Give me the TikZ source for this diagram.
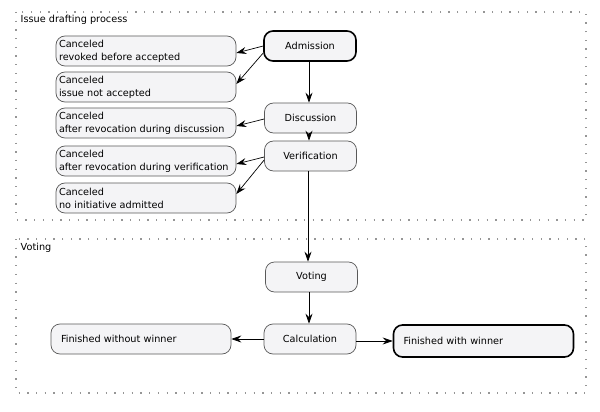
\documentclass[tikz,border=0pt]{standalone}
\usepackage{fontspec}
\setmainfont{DejaVu Sans}
\usetikzlibrary{arrows.meta}
\usetikzlibrary{positioning}

\definecolor{stagefill}{RGB}{244,244,246}
\definecolor{phaseline}{RGB}{150,150,150}

\begin{document}
\begin{tikzpicture}[
            x = 1pt, y = -1pt, % pixel grid, y going down
            > = {Stealth[length=10pt, width=7pt, inset=3.5pt]}, % arrow head style
            font = \fontsize{9.7}{13}\selectfont,
            line width = 0.7pt
        ]

        \tikzstyle{stage}=[
            draw = black!65,
            line width = 0.7pt,
            fill = stagefill,
            rounded corners = 9pt,
            minimum width = 92pt,
            minimum height = 30pt,
            inner sep = 2pt
        ]
        \tikzstyle{stage end}=[stage, draw = black, line width = 1.6pt]
        \tikzstyle{canceled}=[stage, minimum width = 180pt, text width = 174pt, inner sep = 3pt, align = left]
        \tikzstyle{finished}=[stage, minimum width = 180pt, text width = 160pt, inner sep = 10pt, align = left]
        \tikzstyle{finished end}=[finished, draw = black, line width = 1.6pt, minimum height = 32pt]
        \tikzstyle{phase}=[draw = phaseline, line width = 1.3pt, dash pattern = on 1.3pt off 7.4pt]

        \useasboundingbox (0,0) rectangle (600,412);

	% ISSUE DRAFTING PROCESS
        \draw[phase] (16,12) rectangle (586,220);
        \node[anchor = west] (draftlabel) at (17,20) {Issue drafting process};

        \node[stage end] (adm) at (310,46) {Admission};
        \node[stage] (disc) at (310.5,118) {Discussion};
        \node[stage] (verif) at (310.5,156) {Verification};

        \node[canceled] (revoked) at (146,51) {Canceled\\revoked before accepted};
        \node[canceled] (notacc) at (146,87) {Canceled\\issue not accepted};
        \node[canceled] (revdisc) at (146,123) {Canceled\\after revocation during discussion};
        \node[canceled] (revverif) at (146,161) {Canceled\\after revocation during verification};
        \node[canceled] (noinit) at (146,198) {Canceled\\no initiative admitted};

        \path[->] (adm.west) edge ([yshift=-2pt]revoked.east);
        \path[->] ([yshift=-7pt]adm.west) edge ([yshift=3pt]notacc.east);
        \path[->] ([yshift=-1pt]disc.west) edge ([yshift=-3pt]revdisc.east);
        \path[->] ([yshift=-1pt]verif.west) edge ([yshift=-3pt]revverif.east);
        \path[->] ([yshift=-4pt]verif.west) edge ([yshift=4pt]noinit.east);

        \path[->] ([xshift=-1pt]adm.south) edge ([xshift=-1.5pt]disc.north);
        \path[->] ([xshift=-1.5pt]disc.south) edge ([xshift=-1.5pt]verif.north);

	% VOTING
        \draw[phase] (16,239) rectangle (586,393);
        \node[anchor = west] (votelabel) at (17,248) {Voting};

        \node[stage] (voting) at (311.5,277) {Voting};
        \node[stage] (calc) at (310,339) {Calculation};
        \node[finished] (nowinner) at (141,339) {Finished without winner};
        \node[finished end] (winner) at (483.5,341) {Finished with winner};

        \path[->] ([xshift=-2.5pt]verif.south) edge ([xshift=-2.5pt]verif.south |- voting.north);
        \path[->] ([xshift=-2.5pt]voting.south) edge ([xshift=-2.5pt]voting.south |- calc.north);
        \path[->] (calc.west) edge (nowinner.east);
        \path[->] (calc.east |- winner.west) edge (winner.west);

  \end{tikzpicture}
\end{document}
